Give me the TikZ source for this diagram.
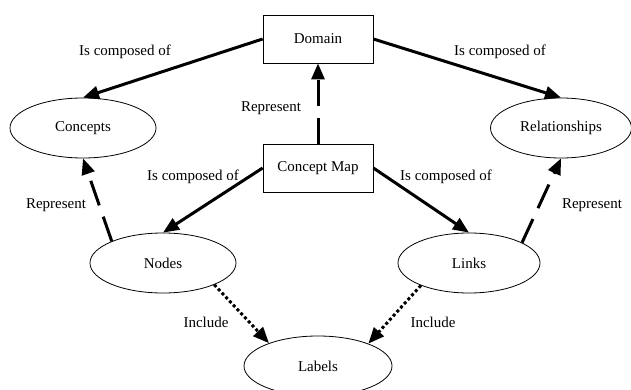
\documentclass[tikz,border=0pt]{standalone}
\usepackage{fontspec}
\setmainfont{Liberation Serif}
\usetikzlibrary{arrows.meta}
\tikzset{
  box/.style={draw, rectangle, line width=0.8pt, minimum width=110pt, minimum height=48pt, font=\fontsize{15}{18}\selectfont},
  oval/.style={draw, ellipse, line width=0.8pt, minimum width=146pt, minimum height=60pt, font=\fontsize{15}{18}\selectfont},
  txt/.style={font=\fontsize{15}{18}\selectfont},
  comp/.style={line width=3pt, -{Triangle[length=16pt,width=13pt]}},
  repr/.style={comp, dash pattern=on 26pt off 12pt},
  incl/.style={comp, dash pattern=on 3pt off 2.5pt}
}
\usetikzlibrary{shapes.geometric}
\begin{document}
\begin{tikzpicture}[x=1pt, y=-1pt]
\useasboundingbox (0,0) rectangle (631,390);
\node[box] (dom) at (318,39) {Domain};
\node[box] (cmap) at (318,168) {Concept Map};
\node[oval] (cpt) at (83,128) {Concepts};
\node[oval, minimum width=141pt] (rel) at (561,128) {Relationships};
\node[oval] (nod) at (163,263) {Nodes};
\node[oval, minimum width=142pt] (lnk) at (469,263) {Links};
\node[oval, minimum width=148pt] (lab) at (318,366) {Labels};
% labels on the links
\node[txt] (t1) at (125,52) {Is composed of};
\node[txt] (t2) at (500,52) {Is composed of};
\node[txt] (t3) at (271,108) {Represent};
\node[txt] (t4) at (193,177) {Is composed of};
\node[txt] (t5) at (446,177) {Is composed of};
\node[txt] (t6) at (56,205) {Represent};
\node[txt] (t7) at (592,205) {Represent};
\node[txt] (t8) at (206,322) {Include};
\node[txt] (t9) at (433,322) {Include};
\draw[comp] (dom.west) -- (cpt.north);
\draw[comp] (dom.east) -- (rel.north);
\draw[repr] (cmap.north) -- (dom.south);
\draw[comp] (cmap.west) -- (nod.north);
\draw[comp] (cmap.east) -- (lnk.north);
\draw[repr] (nod.157) -- (cpt.south);
\draw[repr] (lnk.21) -- (rel.south);
\draw[incl] (nod.337) -- (lab.155);
\draw[incl] (lnk.205) -- (lab.24);
\end{tikzpicture}
\end{document}
